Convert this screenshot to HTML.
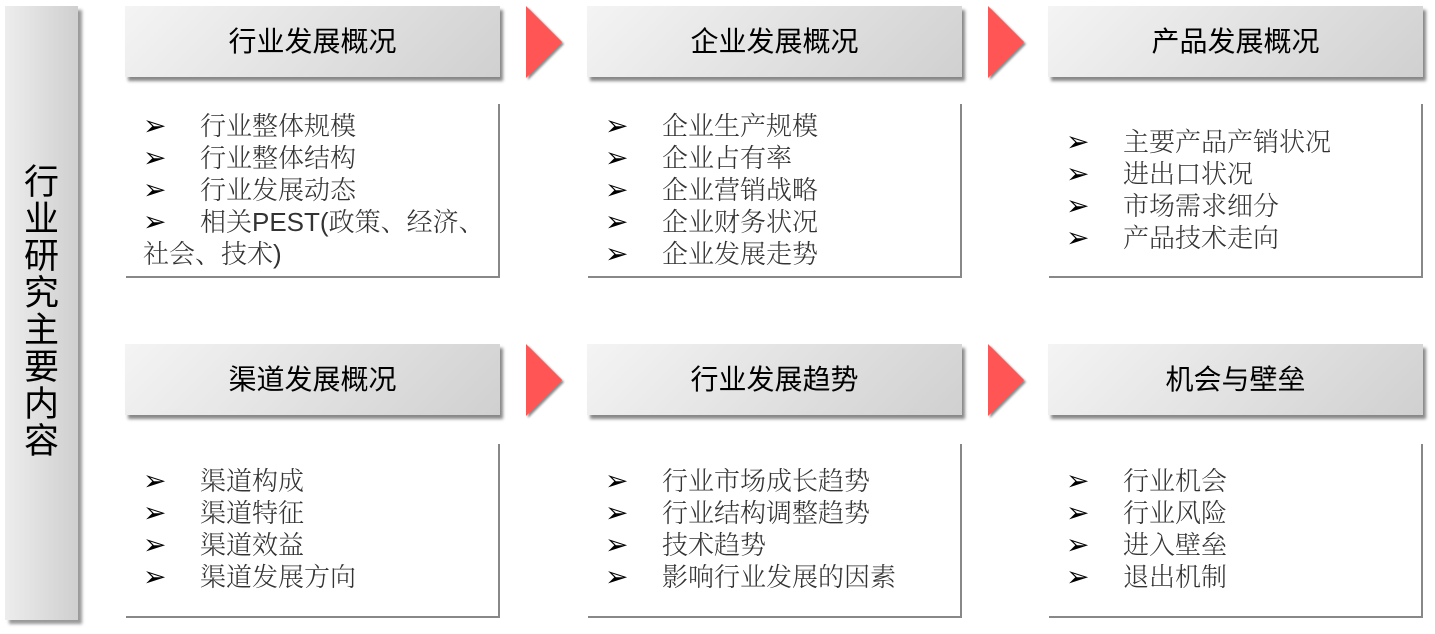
<!DOCTYPE html>
<html><head><meta charset="utf-8"><style>
body{margin:0;width:1435px;height:634px;background:#fff;position:relative;overflow:hidden;font-family:"Liberation Sans","Noto Sans CJK SC",sans-serif}
.left{position:absolute;left:5px;top:6px;width:73px;height:614px;background:linear-gradient(90deg,#ededed,#cfcfcf);box-shadow:4px 4px 3px #999}
.lt{position:absolute;left:5px;width:73px;top:164px;text-align:center;font-size:35px;line-height:37px;color:#000}
.hd{position:absolute;width:375px;height:71px;background:linear-gradient(135deg,#f4f4f4,#d0d0d0);box-shadow:3px 4px 3px #888;text-align:center;line-height:71px;font-size:28px;color:#000}
.ct{position:absolute;width:374px;height:174px;border-right:2px solid #888;border-bottom:2px solid #888;box-sizing:border-box;font-size:26px;color:#333;line-height:32px;font-family:"Liberation Sans","Noto Serif CJK SC",serif;font-weight:300}
.it{position:absolute;left:17px;right:8px}
.it>div{height:32px;white-space:nowrap}
.b{display:inline-block;width:57px;font-family:"DejaVu Sans",sans-serif;font-size:28px;color:#000;font-weight:bold}
.ar{position:absolute;width:0;height:0;border-top:36px solid transparent;border-bottom:36px solid transparent;border-left:36px solid #f55;filter:drop-shadow(2px 2px 1px #888)}
</style></head><body>
<div class="left"></div>
<div class="lt">行<br>业<br>研<br>究<br>主<br>要<br>内<br>容</div>

<div class="hd" style="left:125px;top:6px">行业发展概况</div>
<div class="hd" style="left:587px;top:6px">企业发展概况</div>
<div class="hd" style="left:1048px;top:6px">产品发展概况</div>
<div class="hd" style="left:125px;top:344px">渠道发展概况</div>
<div class="hd" style="left:587px;top:344px">行业发展趋势</div>
<div class="hd" style="left:1048px;top:344px">机会与壁垒</div>

<div class="ar" style="left:526px;top:6px"></div>
<div class="ar" style="left:988px;top:6px"></div>
<div class="ar" style="left:526px;top:344px"></div>
<div class="ar" style="left:988px;top:344px"></div>

<div class="ct" style="left:126px;top:104px"><div class="it" style="top:6px">
<div><span class="b">➢</span>行业整体规模</div><div><span class="b">➢</span>行业整体结构</div><div><span class="b">➢</span>行业发展动态</div><div><span class="b">➢</span>相关PEST(政策、经济、</div><div>社会、技术)</div></div></div>
<div class="ct" style="left:588px;top:104px"><div class="it" style="top:6px">
<div><span class="b">➢</span>企业生产规模</div><div><span class="b">➢</span>企业占有率</div><div><span class="b">➢</span>企业营销战略</div><div><span class="b">➢</span>企业财务状况</div><div><span class="b">➢</span>企业发展走势</div></div></div>
<div class="ct" style="left:1049px;top:104px"><div class="it" style="top:22px">
<div><span class="b">➢</span>主要产品产销状况</div><div><span class="b">➢</span>进出口状况</div><div><span class="b">➢</span>市场需求细分</div><div><span class="b">➢</span>产品技术走向</div></div></div>
<div class="ct" style="left:126px;top:444px"><div class="it" style="top:21px">
<div><span class="b">➢</span>渠道构成</div><div><span class="b">➢</span>渠道特征</div><div><span class="b">➢</span>渠道效益</div><div><span class="b">➢</span>渠道发展方向</div></div></div>
<div class="ct" style="left:588px;top:444px"><div class="it" style="top:21px">
<div><span class="b">➢</span>行业市场成长趋势</div><div><span class="b">➢</span>行业结构调整趋势</div><div><span class="b">➢</span>技术趋势</div><div><span class="b">➢</span>影响行业发展的因素</div></div></div>
<div class="ct" style="left:1049px;top:444px"><div class="it" style="top:21px">
<div><span class="b">➢</span>行业机会</div><div><span class="b">➢</span>行业风险</div><div><span class="b">➢</span>进入壁垒</div><div><span class="b">➢</span>退出机制</div></div></div>
</body></html>
